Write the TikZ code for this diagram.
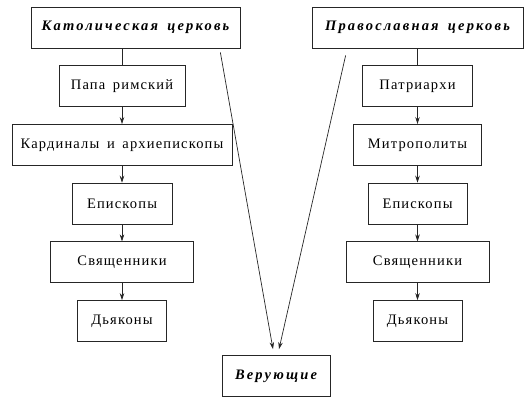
\documentclass[tikz,border=0pt]{standalone}
\usepackage{fontspec}
\setmainfont{Liberation Serif}[LetterSpace=8,WordSpace=1.6]
\usetikzlibrary{arrows.meta, positioning}

\tikzset{box/.style={draw=black!85, line width=0.7pt, minimum height=41pt, inner sep=2pt,
    text=black, font=\fontsize{14.5}{16}\selectfont}}
\tikzset{head/.style={box, font=\fontsize{14.5}{16}\selectfont\bfseries\itshape\addfontfeatures{LetterSpace=15}}}

\begin{document}
\begin{tikzpicture}[x=1pt,y=1pt,node distance=17pt,>={Stealth[length=7pt,width=4.5pt]}]
\useasboundingbox (0,0) rectangle (530,400);

% left column
\node (cath) [head, minimum width=209pt] at (135.5,372.5) {Католическая церковь};
\node (papa) [box, minimum width=126pt, below=of cath, xshift=-13.5pt] {Папа римский};
\node (card) [box, minimum width=220pt, below=of papa] {Кардиналы и архиепископы};
\node (epk1) [box, minimum width=100pt, below=of card] {Епископы};
\node (svk1) [box, minimum width=143pt, below=of epk1] {Священники};
\node (dyk1) [box, minimum width=89pt, below=of svk1] {Дьяконы};

% right column
\node (orth) [head, minimum width=211pt] at (417.5,372.5) {Православная церковь};
\node (patr) [box, minimum width=110pt, below=of orth] {Патриархи};
\node (mitr) [box, minimum width=128pt, below=of patr] {Митрополиты};
\node (epk2) [box, minimum width=99pt, below=of mitr] {Епископы};
\node (svk2) [box, minimum width=143pt, below=of epk2] {Священники};
\node (dyk2) [box, minimum width=89pt, below=of svk2] {Дьяконы};

\node (veru) [head, minimum width=108pt] at (276,24) {Верующие};

\draw[black!85, line width=0.7pt] (papa.north) -- (papa.north |- cath.south);
\draw[black!85, line width=0.7pt] (patr.north) -- (patr.north |- orth.south);

\path[->, black!85, line width=0.7pt] (papa) edge (card) (card) edge (epk1)
    (epk1) edge (svk1) (svk1) edge (dyk1);
\path[->, black!85, line width=0.7pt] (patr) edge (mitr) (mitr) edge (epk2)
    (epk2) edge (svk2) (svk2) edge (dyk2);

\coordinate (c1) at ([xshift=-20pt,yshift=-4pt]cath.south east);
\coordinate (c2) at ([xshift=34pt,yshift=-7pt]orth.south west);
\draw[->, black!85, line width=0.7pt] (c1) -- ([xshift=-3pt,yshift=6pt]veru.north);
\draw[->, black!85, line width=0.7pt] (c2) -- ([xshift=3pt,yshift=6pt]veru.north);
\end{tikzpicture}
\end{document}
